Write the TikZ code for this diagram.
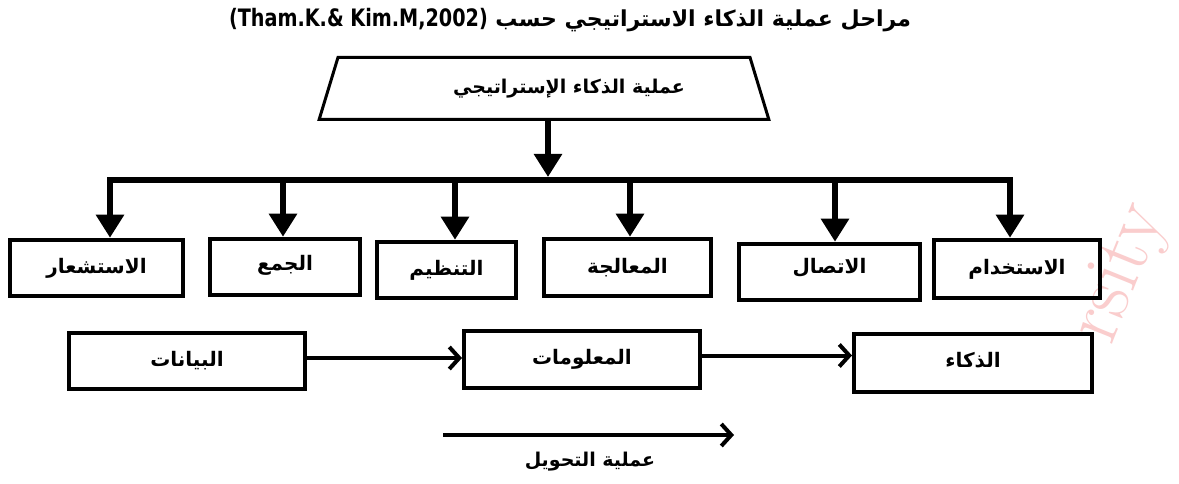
\documentclass[tikz,border=0pt]{standalone}
\usepackage{fontspec}
\usetikzlibrary{arrows.meta,shapes.geometric}
\TeXXeTstate=1
\newfontfamily\arabicfont[Script=Arabic]{DejaVu Sans}
\newfontfamily\condfont[FakeStretch=0.8]{DejaVu Sans}
\newcommand{\artext}[1]{{\arabicfont\bfseries\beginR #1\endR}}
\definecolor{wmpink}{RGB}{250,205,205}
\begin{document}
\begin{tikzpicture}[x=1pt,y=-1pt,
  stagebox/.style={draw,line width=4.5pt,inner sep=0pt,
    font=\fontsize{20}{20}\selectfont},
  flowbox/.style={draw,line width=4pt,inner sep=0pt,
    font=\fontsize{20}{20}\selectfont},
  branch/.style={line width=6pt,-{Triangle[length=23pt,width=27pt]}},
  flowarrow/.style={line width=4pt,-{Straight Barb[length=10pt,width=22pt,line width=4pt]}},
  bar/.style={line width=6.5pt,line cap=rect}]
\useasboundingbox (0,0) rectangle (1179,484);
\fill[white] (0,0) rectangle (1179,484);

% faint watermark text at the right margin
\node[rotate=68,text=wmpink,font=\fontsize{80}{80}\selectfont,anchor=base west]
  (wm) at (1110,350) {rsity};

% title
\node[font=\fontsize{22}{22}\selectfont] (title) at (570,20)
  {\artext{مراحل عملية الذكاء الاستراتيجي حسب \beginL{\condfont\bfseries\fontsize{24}{24}\selectfont (Tham.K.\& Kim.M,2002)}\endL}};

% top process shape
\node[trapezium,draw,line width=3pt,trapezium angle=56,trapezium stretches,
  minimum width=450pt,minimum height=62pt,inner sep=0pt,
  font=\fontsize{19}{19}\selectfont] (trap) at (544,88.5)
  {\hspace*{50pt}\artext{عملية الذكاء الإستراتيجي}};

% distribution bar
\coordinate (barL) at (110,180);
\coordinate (barR) at (1010,180);
\draw[bar] (barL) -- (barR);
\draw[branch] (trap.south -| 548,0) -- (548,177);

% stage boxes
\node[stagebox,minimum width=173pt,minimum height=56pt] (s1) at (96.5,268) {\artext{الاستشعار}};
\node[stagebox,minimum width=150pt,minimum height=56pt] (s2) at (285,267) {\raisebox{8pt}{\artext{الجمع}}};
\node[stagebox,minimum width=139pt,minimum height=56pt] (s3) at (446.5,270) {\artext{التنظيم}};
\node[stagebox,minimum width=167pt,minimum height=57pt] (s4) at (627.5,267.5) {\raisebox{3pt}{\artext{المعالجة}}};
\node[stagebox,minimum width=181pt,minimum height=56pt] (s5) at (829.5,272) {\raisebox{12pt}{\artext{الاتصال}}};
\node[stagebox,minimum width=166pt,minimum height=58pt] (s6) at (1017,269) {\artext{الاستخدام}};

% branch taps on the bar
\coordinate (t1) at (110,180);
\coordinate (t2) at (283,180);
\coordinate (t3) at (455,180);
\coordinate (t4) at (630,180);
\coordinate (t5) at (835,180);
\coordinate (t6) at (1010,180);
\draw[branch] (t1) -- (t1 |- s1.north);
\draw[branch] (t2) -- (t2 |- s2.north);
\draw[branch] (t3) -- (t3 |- s3.north);
\draw[branch] (t4) -- (t4 |- s4.north);
\draw[branch] (t5) -- (t5 |- s5.north);
\draw[branch] (t6) -- (t6 |- s6.north);

% data -> information -> intelligence
\node[flowbox,minimum width=236pt,minimum height=56pt] (data) at (187,361) {\raisebox{-6pt}{\artext{البيانات}}};
\node[flowbox,minimum width=236pt,minimum height=57pt] (info) at (582,359.5) {\raisebox{6pt}{\artext{المعلومات}}};
\node[flowbox,minimum width=238pt,minimum height=58pt] (intel) at (973,363) {\raisebox{6pt}{\artext{الذكاء}}};
\draw[flowarrow] ([yshift=3pt]data.east) -- ([yshift=3pt]data.east -| info.west);
\draw[flowarrow] ([yshift=4pt]info.east) -- ([yshift=4pt]info.east -| intel.west);

% transformation arrow
\coordinate (trL) at (443,435);
\coordinate (trR) at (734,435);
\draw[flowarrow] (trL) -- (trR);
\node[font=\fontsize{19}{19}\selectfont] (trlabel) at (590,462) {\artext{عملية التحويل}};
\end{tikzpicture}
\end{document}
